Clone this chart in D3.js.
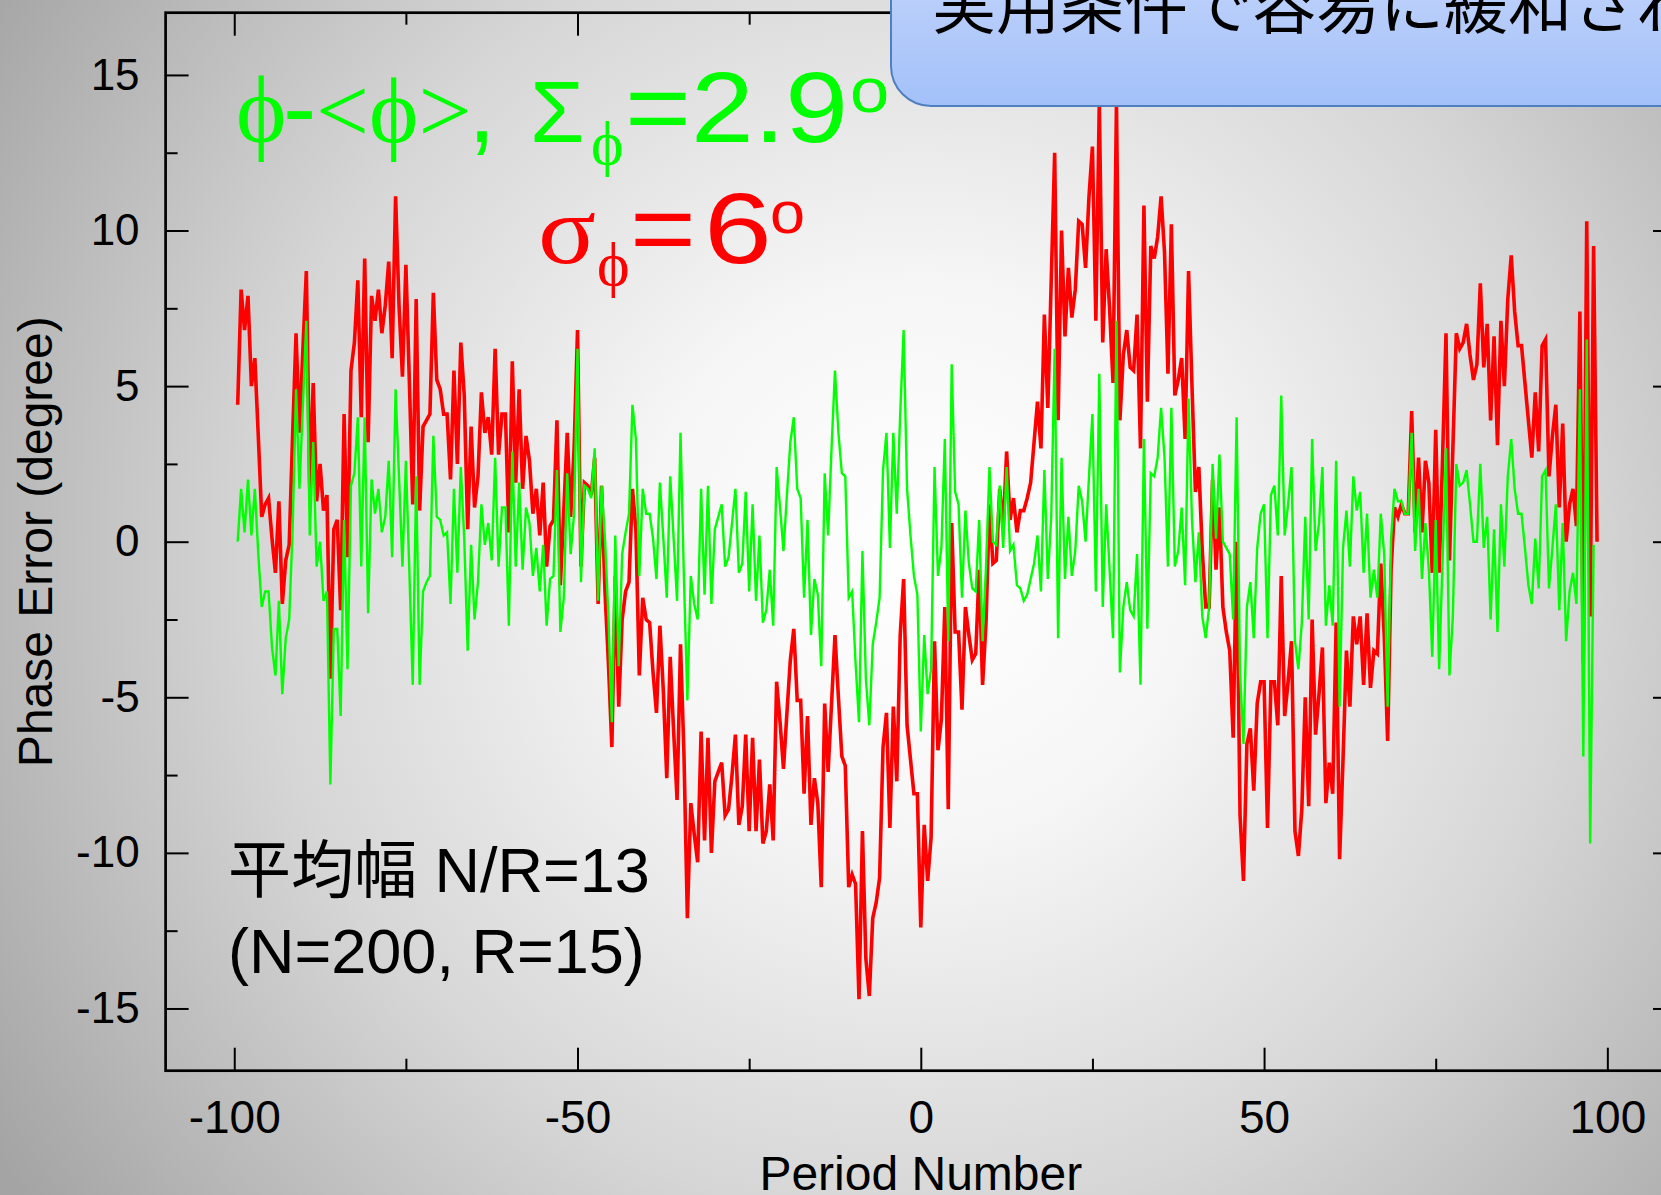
<!DOCTYPE html>
<html>
<head>
<meta charset="utf-8">
<script src="https://cdn.jsdelivr.net/npm/d3@7"></script>
<style>
  body { margin: 0; overflow: hidden; }
  svg { display: block; }
</style>
</head>
<body>
<div id="chart"></div>
<script>
// period axis: first sample and spacing
const periodStart = -99.5
const periodStep = 0.5

// phase error (degree), raw phi
const redValues = [
  4.4, 8.1, 6.8, 7.9, 5.0, 5.9, 3.4, 0.8, 1.2, 1.4,
  0.1, -1.0, 1.3, -2.0, -0.6, -0.1, 3.4, 6.7, 3.5, 6.2,
  8.7, 1.7, 5.1, 1.3, 2.5, 1.0, 1.5, -4.4, 0.4, 0.7,
  -2.2, 4.1, -0.5, 5.5, 6.4, 8.4, 4.0, 9.1, 3.2, 7.9,
  7.1, 8.1, 6.7, 7.6, 9.0, 5.9, 11.1, 7.6, 5.3, 8.9,
  5.2, 1.2, 7.8, 1.0, 3.7, 3.9, 4.1, 8.0, 5.2, 4.9,
  4.1, 4.1, 2.0, 5.5, 2.5, 6.4, 4.7, 0.4, 3.7, 1.1,
  2.1, 4.8, 3.5, 4.0, 2.8, 6.2, 2.8, 4.1, 4.1, 0.3,
  5.8, 1.9, 4.9, 1.7, 3.4, 2.6, 0.9, 1.7, 0.2, 1.9,
  -0.8, 0.5, 0.7, 3.9, -1.4, 1.0, 3.5, 0.8, 3.0, 6.8,
  -0.8, 1.9, 1.8, 1.5, 2.7, -2.0, 1.8, -1.6, -3.9, -6.6,
  -1.1, -5.3, -2.5, -1.6, -1.3, 1.7, 0.4, -4.3, -1.8, -2.5,
  -2.6, -4.2, -5.5, -2.7, -4.8, -7.6, -3.7, -6.1, -8.3, -3.3,
  -6.8, -12.1, -8.4, -9.4, -10.3, -6.1, -9.6, -6.3, -10.0, -7.7,
  -7.4, -7.1, -8.8, -8.6, -7.5, -6.2, -9.1, -8.5, -6.2, -9.3,
  -6.3, -9.3, -7.0, -9.7, -9.3, -7.8, -9.6, -4.5, -5.8, -7.3,
  -5.5, -3.8, -2.8, -5.1, -5.1, -8.1, -5.6, -9.1, -7.6, -8.4,
  -11.1, -5.2, -7.4, -5.2, -3.0, -5.0, -6.9, -7.2, -11.1, -10.7,
  -11.0, -14.7, -9.3, -13.4, -14.6, -12.1, -11.6, -10.8, -6.6, -5.5,
  -9.2, -5.3, -7.7, -3.0, -1.2, -5.9, -7.0, -8.1, -8.1, -12.4,
  -9.1, -10.9, -9.5, -3.2, -6.7, -5.7, -2.1, -8.6, 0.6, -2.9,
  -2.9, -5.4, -2.1, -3.0, -3.8, -3.6, -0.9, -4.6, -2.6, 1.2,
  -0.7, -0.6, 1.7, 0.4, 2.9, 0.7, 1.4, 0.3, 1.0, 1.0,
  1.4, 1.9, 3.2, 4.5, 3.0, 7.3, 4.3, 8.4, 12.5, 3.9,
  10.0, 6.6, 8.8, 7.2, 8.1, 10.3, 10.2, 8.8, 11.1, 12.7,
  7.1, 14.1, 6.4, 9.4, 7.5, 5.1, 14.1, 3.9, 6.0, 6.8,
  5.6, 5.5, 7.3, 3.0, 10.8, 4.5, 9.5, 9.1, 9.8, 11.1,
  9.3, 5.4, 10.2, 4.7, 5.2, 5.9, 3.3, 8.7, 5.0, 1.6,
  2.4, -0.3, -2.1, -2.1, 2.0, -0.9, 1.1, -2.1, -2.9, -3.5,
  -6.3, 0.0, -8.8, -10.9, -6.5, -6.0, -8.0, -5.2, -4.5, -4.5,
  -9.2, -4.5, -4.5, -5.9, -1.1, -5.6, -4.5, -3.2, -9.3, -10.1,
  -8.6, -5.0, -8.5, -2.5, -6.2, -4.9, -3.4, -8.4, -7.1, -8.1,
  -2.6, -10.2, -7.0, -3.5, -5.3, -2.4, -3.3, -2.4, -4.6, -2.3,
  -4.7, -3.5, -3.6, -0.7, -3.0, -6.4, -0.9, 1.1, 0.8, 1.2,
  0.9, 0.9, 4.2, 0.3, 2.7, 0.3, 2.6, 1.9, -1.0, 3.6,
  -1.0, 2.7, 6.7, -0.6, 3.0, 6.7, 6.2, 6.4, 7.0, 6.0,
  5.2, 5.7, 8.3, 5.6, 7.0, 3.9, 6.6, 3.1, 7.1, 5.0,
  7.8, 9.2, 7.4, 6.3, 6.3, 5.1, 3.9, 2.7, 4.8, 2.9,
  6.3, 6.5, 2.1, 3.4, 4.4, 1.1, 3.8, 0.0, 1.2, 1.7,
  0.5, 7.4, -3.9, 10.3, -2.4, 9.5, 0.0
]

// phi - <phi> (moving average removed)
const greenValues = [
  0.0, 1.7, 0.3, 2.0, 0.2, 1.7, -0.4, -2.1, -1.6, -1.6,
  -3.4, -4.3, -1.9, -4.9, -3.1, -2.5, 0.4, 4.9, 1.7, 4.4,
  7.1, 0.2, 3.2, -0.8, 0.0, -1.9, -1.6, -7.8, -2.8, -2.8,
  -5.6, 0.7, -4.1, 1.8, 2.2, 4.0, -0.8, 4.0, -2.3, 2.0,
  0.9, 1.7, 0.3, 0.8, 2.6, -0.5, 4.9, 2.1, -0.8, 2.6,
  -0.9, -4.6, 2.1, -4.6, -1.6, -1.3, -1.1, 3.4, 0.8, 0.7,
  0.2, 0.3, -2.0, 1.7, -1.0, 2.4, 0.1, -3.5, -0.1, -2.5,
  -1.3, 1.2, -0.1, 0.6, -0.6, 2.7, -0.8, 1.1, 1.1, -2.7,
  2.9, -0.8, 1.9, -0.9, 1.1, 0.6, -1.1, -0.2, -1.6, -0.1,
  -2.7, -1.2, -1.1, 2.3, -2.9, -1.8, 2.2, -0.4, 0.9, 6.2,
  -1.3, 1.8, 1.7, 1.4, 3.0, -1.9, 1.8, 0.1, -2.4, -5.8,
  0.2, -4.0, -0.4, 0.3, 0.9, 4.4, 3.3, -1.1, 1.7, 0.9,
  0.9, 0.1, -1.2, 1.9, 0.1, -1.8, 2.1, 0.1, -1.9, 3.5,
  -1.2, -5.1, -1.1, -2.0, -2.5, 1.7, -1.7, 1.8, -2.0, 0.4,
  0.8, 1.2, -0.8, -0.5, 0.6, 1.7, -1.0, -0.7, 1.6, -1.6,
  1.2, -1.9, 0.2, -2.6, -2.2, -0.9, -2.7, 2.4, 1.1, -0.3,
  1.5, 3.2, 4.0, 1.7, 1.4, -1.8, 0.7, -3.0, -1.2, -1.7,
  -4.0, 2.2, 0.2, 3.0, 5.5, 3.5, 2.2, 2.1, -1.8, -1.6,
  -3.9, -5.8, -0.3, -4.4, -5.9, -3.3, -2.6, -1.8, 2.3, 3.5,
  -0.2, 3.5, 0.9, 4.1, 6.8, 1.7, 0.2, -1.1, -1.7, -6.1,
  -3.0, -4.9, -4.1, 2.4, -1.1, -0.2, 3.3, -3.2, 5.7, 1.6,
  1.2, -1.8, 1.0, -0.7, -1.5, -1.6, 0.7, -3.2, -0.8, 2.4,
  0.0, -0.1, 1.8, -0.2, 2.4, -0.3, -0.1, -1.4, -1.5, -1.9,
  -1.7, -1.2, -0.7, 0.2, -1.6, 2.3, -1.2, 0.8, 6.2, -3.1,
  2.7, -1.2, 0.8, -1.1, -0.3, 1.8, 1.3, 0.0, 2.1, 4.1,
  -1.6, 5.4, -2.1, 1.2, -0.9, -3.1, 7.1, -4.2, -2.1, -1.3,
  -2.2, -2.4, -0.4, -4.6, 3.3, -2.8, 2.2, 2.1, 2.7, 4.3,
  2.7, -0.8, 4.3, -0.8, -0.3, 1.1, -1.4, 4.6, 0.7, -1.3,
  0.3, -2.4, -3.1, -2.1, 2.5, 0.1, 2.8, 0.0, -0.2, -0.4,
  -2.5, 4.0, -4.2, -6.5, -2.1, -1.3, -3.1, -0.2, 0.9, 1.2,
  -3.1, 1.5, 1.8, 0.2, 4.7, 0.2, 1.2, 2.4, -3.2, -4.1,
  -2.6, 0.8, -2.5, 3.3, -0.3, 0.6, 2.4, -2.7, -1.4, -2.7,
  2.6, -5.3, -0.2, 1.0, -0.8, 2.1, 1.0, 1.6, -1.0, 0.9,
  -1.8, -0.9, -1.8, 0.9, -0.4, -5.3, 0.1, 1.7, 1.3, 1.3,
  0.9, 0.9, 3.5, -0.3, 1.7, -1.2, 0.6, -0.9, -3.7, 0.7,
  -4.1, -0.6, 3.0, -4.3, -2.4, 2.5, 1.8, 1.9, 2.3, 1.2,
  0.0, 0.0, 2.5, -0.2, 0.8, -2.5, 0.4, -2.9, 1.2, -0.8,
  2.1, 3.3, 1.7, 0.9, 0.9, -0.2, -1.4, -2.0, 0.1, -1.5,
  2.1, 2.3, -1.5, -0.2, 1.2, -2.2, 0.6, -3.2, -1.6, -1.0,
  -2.0, 4.9, -6.9, 6.5, -9.7, -0.1
]

const xMajorTicks = [-100, -50, 0, 50, 100]
const xMinorTicks = [-75, -25, 25, 75]
const yMajorTicks = [-15, -10, -5, 0, 5, 10, 15]
const yMinorTicks = [-12.5, -7.5, -2.5, 2.5, 7.5, 12.5]

const W = 1661, H = 1195
const box = {left: 165.6, top: 12.7, right: 1676, bottom: 1070.7}
const sans = '"Liberation Sans", Arial, sans-serif'
const serif = '"Liberation Serif", "DejaVu Serif", serif'
const cjk = '"Liberation Sans", "Noto Sans CJK JP", sans-serif'

const svg = d3.select('#chart').append('svg')
  .attr('width', W)
  .attr('height', H)

const defs = svg.append('defs')
const bg = defs.append('radialGradient')
  .attr('id', 'bg')
  .attr('gradientUnits', 'userSpaceOnUse')
  .attr('cx', 920).attr('cy', 560).attr('r', 1100)
bg.append('stop').attr('offset', 0).attr('stop-color', '#ffffff')
bg.append('stop').attr('offset', 0.25).attr('stop-color', '#f6f6f6')
bg.append('stop').attr('offset', 0.6).attr('stop-color', '#d6d6d6')
bg.append('stop').attr('offset', 1).attr('stop-color', '#a4a4a4')

const boxFill = defs.append('linearGradient')
  .attr('id', 'boxFill')
  .attr('x1', 0).attr('y1', 0).attr('x2', 0).attr('y2', 1)
boxFill.append('stop').attr('offset', 0).attr('stop-color', '#c6d6fb')
boxFill.append('stop').attr('offset', 1).attr('stop-color', '#a3c1f9')

svg.append('rect')
  .attr('width', W).attr('height', H)
  .attr('fill', 'url(#bg)')

// scales
const x = d3.scaleLinear().domain([-110, 110]).range([box.left, box.right])
const y = d3.scaleLinear().domain([-17, 17]).range([box.bottom, box.top])

// axes, ticks pointing inward
const plain = d => String(d)
const styleAxis = (g) => {
  g.select('.domain').remove()
  g.selectAll('.tick line').attr('stroke', '#000').attr('stroke-width', 2)
  g.selectAll('.tick text')
    .attr('fill', '#000')
    .attr('font-family', sans)
}

svg.append('g')
  .attr('transform', `translate(0,${box.bottom})`)
  .call(d3.axisBottom(x).tickValues(xMajorTicks).tickSize(-23).tickPadding(30).tickFormat(plain))
  .call(styleAxis)
  .selectAll('.tick text').attr('font-size', 46)

svg.append('g')
  .attr('transform', `translate(0,${box.bottom})`)
  .call(d3.axisBottom(x).tickValues(xMinorTicks).tickSize(-12).tickFormat(''))
  .call(styleAxis)

svg.append('g')
  .attr('transform', `translate(0,${box.top})`)
  .call(d3.axisTop(x).tickValues(xMajorTicks).tickSize(-23).tickFormat(''))
  .call(styleAxis)

svg.append('g')
  .attr('transform', `translate(0,${box.top})`)
  .call(d3.axisTop(x).tickValues(xMinorTicks).tickSize(-12).tickFormat(''))
  .call(styleAxis)

svg.append('g')
  .attr('transform', `translate(${box.left},0)`)
  .call(d3.axisLeft(y).tickValues(yMajorTicks).tickSize(-23).tickPadding(26).tickFormat(plain))
  .call(styleAxis)
  .selectAll('.tick text').attr('font-size', 44)

svg.append('g')
  .attr('transform', `translate(${box.left},0)`)
  .call(d3.axisLeft(y).tickValues(yMinorTicks).tickSize(-12).tickFormat(''))
  .call(styleAxis)

svg.append('g')
  .attr('transform', `translate(${box.right},0)`)
  .call(d3.axisRight(y).tickValues(yMajorTicks).tickSize(-23).tickFormat(''))
  .call(styleAxis)

svg.append('g')
  .attr('transform', `translate(${box.right},0)`)
  .call(d3.axisRight(y).tickValues(yMinorTicks).tickSize(-12).tickFormat(''))
  .call(styleAxis)

// frame
svg.append('rect')
  .attr('x', box.left).attr('y', box.top)
  .attr('width', box.right - box.left).attr('height', box.bottom - box.top)
  .attr('fill', 'none')
  .attr('stroke', '#000')
  .attr('stroke-width', 2.7)

// axis titles
svg.append('text')
  .attr('x', (x(-100) + x(100)) / 2)
  .attr('y', 1190)
  .attr('text-anchor', 'middle')
  .attr('font-family', sans)
  .attr('font-size', 48)
  .text('Period Number')

svg.append('text')
  .attr('transform', `translate(52,${y(0)}) rotate(-90)`)
  .attr('text-anchor', 'middle')
  .attr('font-family', sans)
  .attr('font-size', 48)
  .text('Phase Error (degree)')

// series
const line = d3.line()
  .x((d, i) => x(periodStart + i * periodStep))
  .y(d => y(d))

svg.append('path')
  .datum(redValues)
  .attr('fill', 'none')
  .attr('stroke', '#ff0000')
  .attr('stroke-width', 3.6)
  .attr('d', line)

svg.append('path')
  .datum(greenValues)
  .attr('fill', 'none')
  .attr('stroke', '#00ff00')
  .attr('stroke-width', 2.4)
  .attr('d', line)

// labels built from pieces (serif greek + wide sans digits)
const drawPieces = (pieces, color) => {
  svg.append('g')
    .selectAll('text')
    .data(pieces)
    .join('text')
      .attr('transform', d => `translate(${d.x},${d.y}) scale(${d.sx || 1},1)`)
      .attr('font-family', d => d.serif ? serif : sans)
      .attr('font-size', d => d.size)
      .attr('fill', color)
      .text(d => d.t)
}

// phi-<phi> kept in one text element
const head = svg.append('text')
  .attr('y', 142)
  .attr('fill', '#00ff00')
head.append('tspan').attr('x', 236).attr('font-family', serif).attr('font-size', 96).text('ϕ')
head.append('tspan').attr('x', 283).attr('font-family', sans).attr('font-size', 100).text('-')
head.append('tspan').attr('x', 316).attr('font-family', serif).attr('font-size', 94).text('<ϕ>')

drawPieces([
  {t: ',', size: 100, x: 468, y: 142},
  {t: 'Σ', size: 88, x: 530, y: 142},
  {t: 'ϕ', serif: true, size: 62, x: 591, y: 164},
  {t: '=2.9', size: 100, x: 625, y: 142, sx: 1.13},
  {t: 'o', size: 63, x: 850, y: 112, sx: 1.12}
], '#00ff00')

drawPieces([
  {t: 'σ', serif: true, size: 98, x: 538, y: 263, sx: 1.1},
  {t: 'ϕ', serif: true, size: 62, x: 597, y: 285},
  {t: '=', size: 100, x: 630, y: 263, sx: 1.13},
  {t: '6', size: 100, x: 704, y: 263, sx: 1.22},
  {t: 'o', size: 60, x: 770, y: 233, sx: 1.05}
], '#ff0000')

// averaging note
const note = [
  {text: '平均幅 N/R=13', y: 892},
  {text: '(N=200, R=15)', y: 973}
]
svg.selectAll('.note')
  .data(note)
  .join('text')
    .attr('class', 'note')
    .attr('x', 228)
    .attr('y', d => d.y)
    .attr('font-family', cjk)
    .attr('font-size', 63)
    .attr('fill', '#000')
    .text(d => d.text)

// callout box, top right (runs off the slide)
svg.append('rect')
  .attr('x', 891).attr('y', -60)
  .attr('width', 900).attr('height', 166)
  .attr('rx', 40).attr('ry', 40)
  .attr('fill', 'url(#boxFill)')
  .attr('stroke', '#4f7fbf')
  .attr('stroke-width', 2)

svg.append('text')
  .attr('x', 932).attr('y', 28)
  .attr('font-family', '"Noto Sans CJK JP", sans-serif')
  .attr('font-size', 64)
  .attr('fill', '#000')
  .text('実用条件で容易に緩和される')
</script>
</body>
</html>
